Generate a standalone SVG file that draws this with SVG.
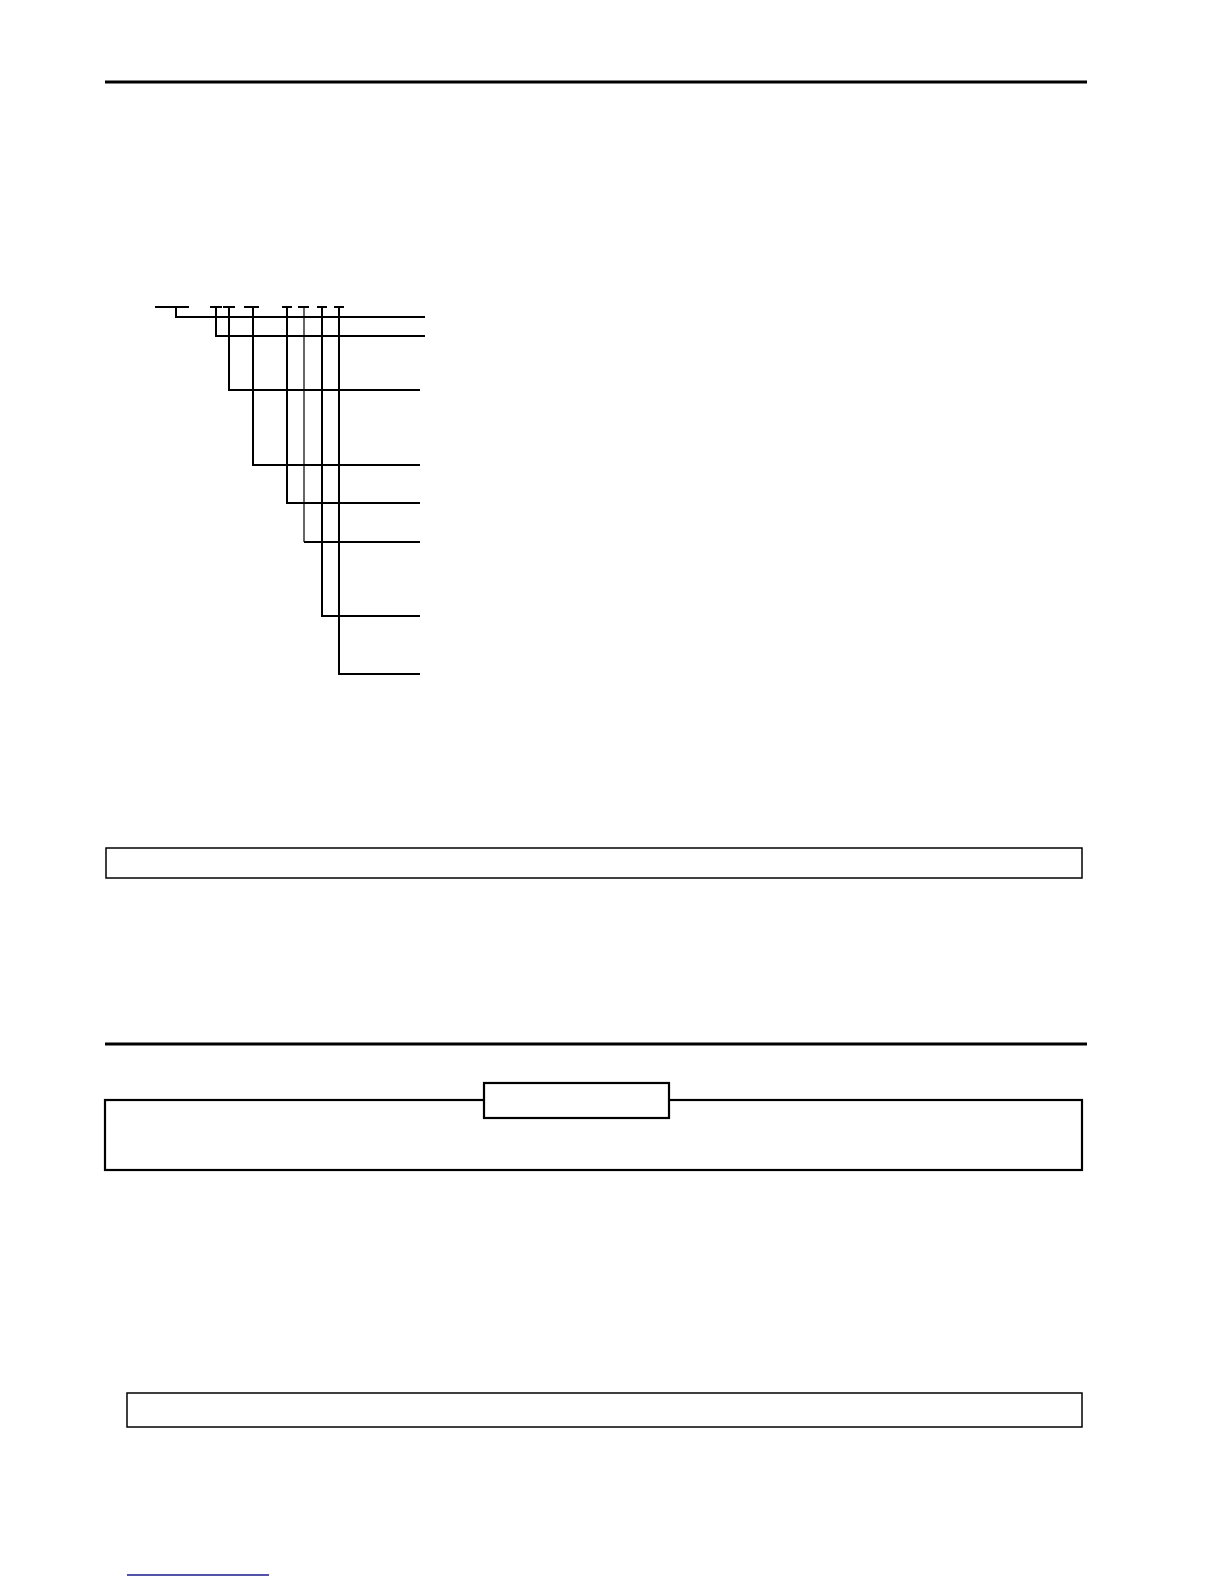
<svg xmlns="http://www.w3.org/2000/svg" width="1224" height="1584" viewBox="0 0 1224 1584">
<style>
.rule{stroke:#000;stroke-width:3;fill:none}
.tree{stroke:#000;stroke-width:2;fill:none}
.thin{stroke:#000;stroke-width:1.2;fill:none}
.box{stroke:#000;stroke-width:1.5;fill:#fff}
.boxb{stroke:#000;stroke-width:2.2;fill:#fff}
</style>
<rect width="1224" height="1584" fill="#fff"/>
<g id="rules">
<line class="rule" x1="105" y1="82" x2="1087" y2="82"/>
<line class="rule" x1="105" y1="1044" x2="1087" y2="1044"/>
</g>
<g id="connectors">
<path class="tree" d="M155 307H189M176 307V317H425"/>
<path class="tree" d="M210 307H222M216 307V336H425"/>
<path class="tree" d="M223 307H235M229 307V390H420"/>
<path class="tree" d="M244 307H259M253 307V465H420"/>
<path class="tree" d="M282 307H292M287 307V503H420"/>
<path class="tree" d="M298 307H309"/>
<path class="thin" d="M304 307V542"/>
<path class="tree" d="M304 542H420"/>
<path class="tree" d="M317 307H327M322 307V616H420"/>
<path class="tree" d="M334 307H344M339 307V674H420"/>
</g>
<g id="box1"><rect class="box" x="106" y="848" width="976" height="30"/></g>
<g id="box2"><rect class="boxb" x="105" y="1100" width="977" height="70"/></g>
<g id="tab"><rect class="boxb" x="484" y="1083" width="185" height="35"/></g>
<g id="box3"><rect class="box" x="127" y="1393" width="955" height="34"/></g>
<g id="footnote"><line x1="127" y1="1575" x2="269" y2="1575" stroke="#1a1a8c" stroke-width="1.3"/></g>
</svg>
